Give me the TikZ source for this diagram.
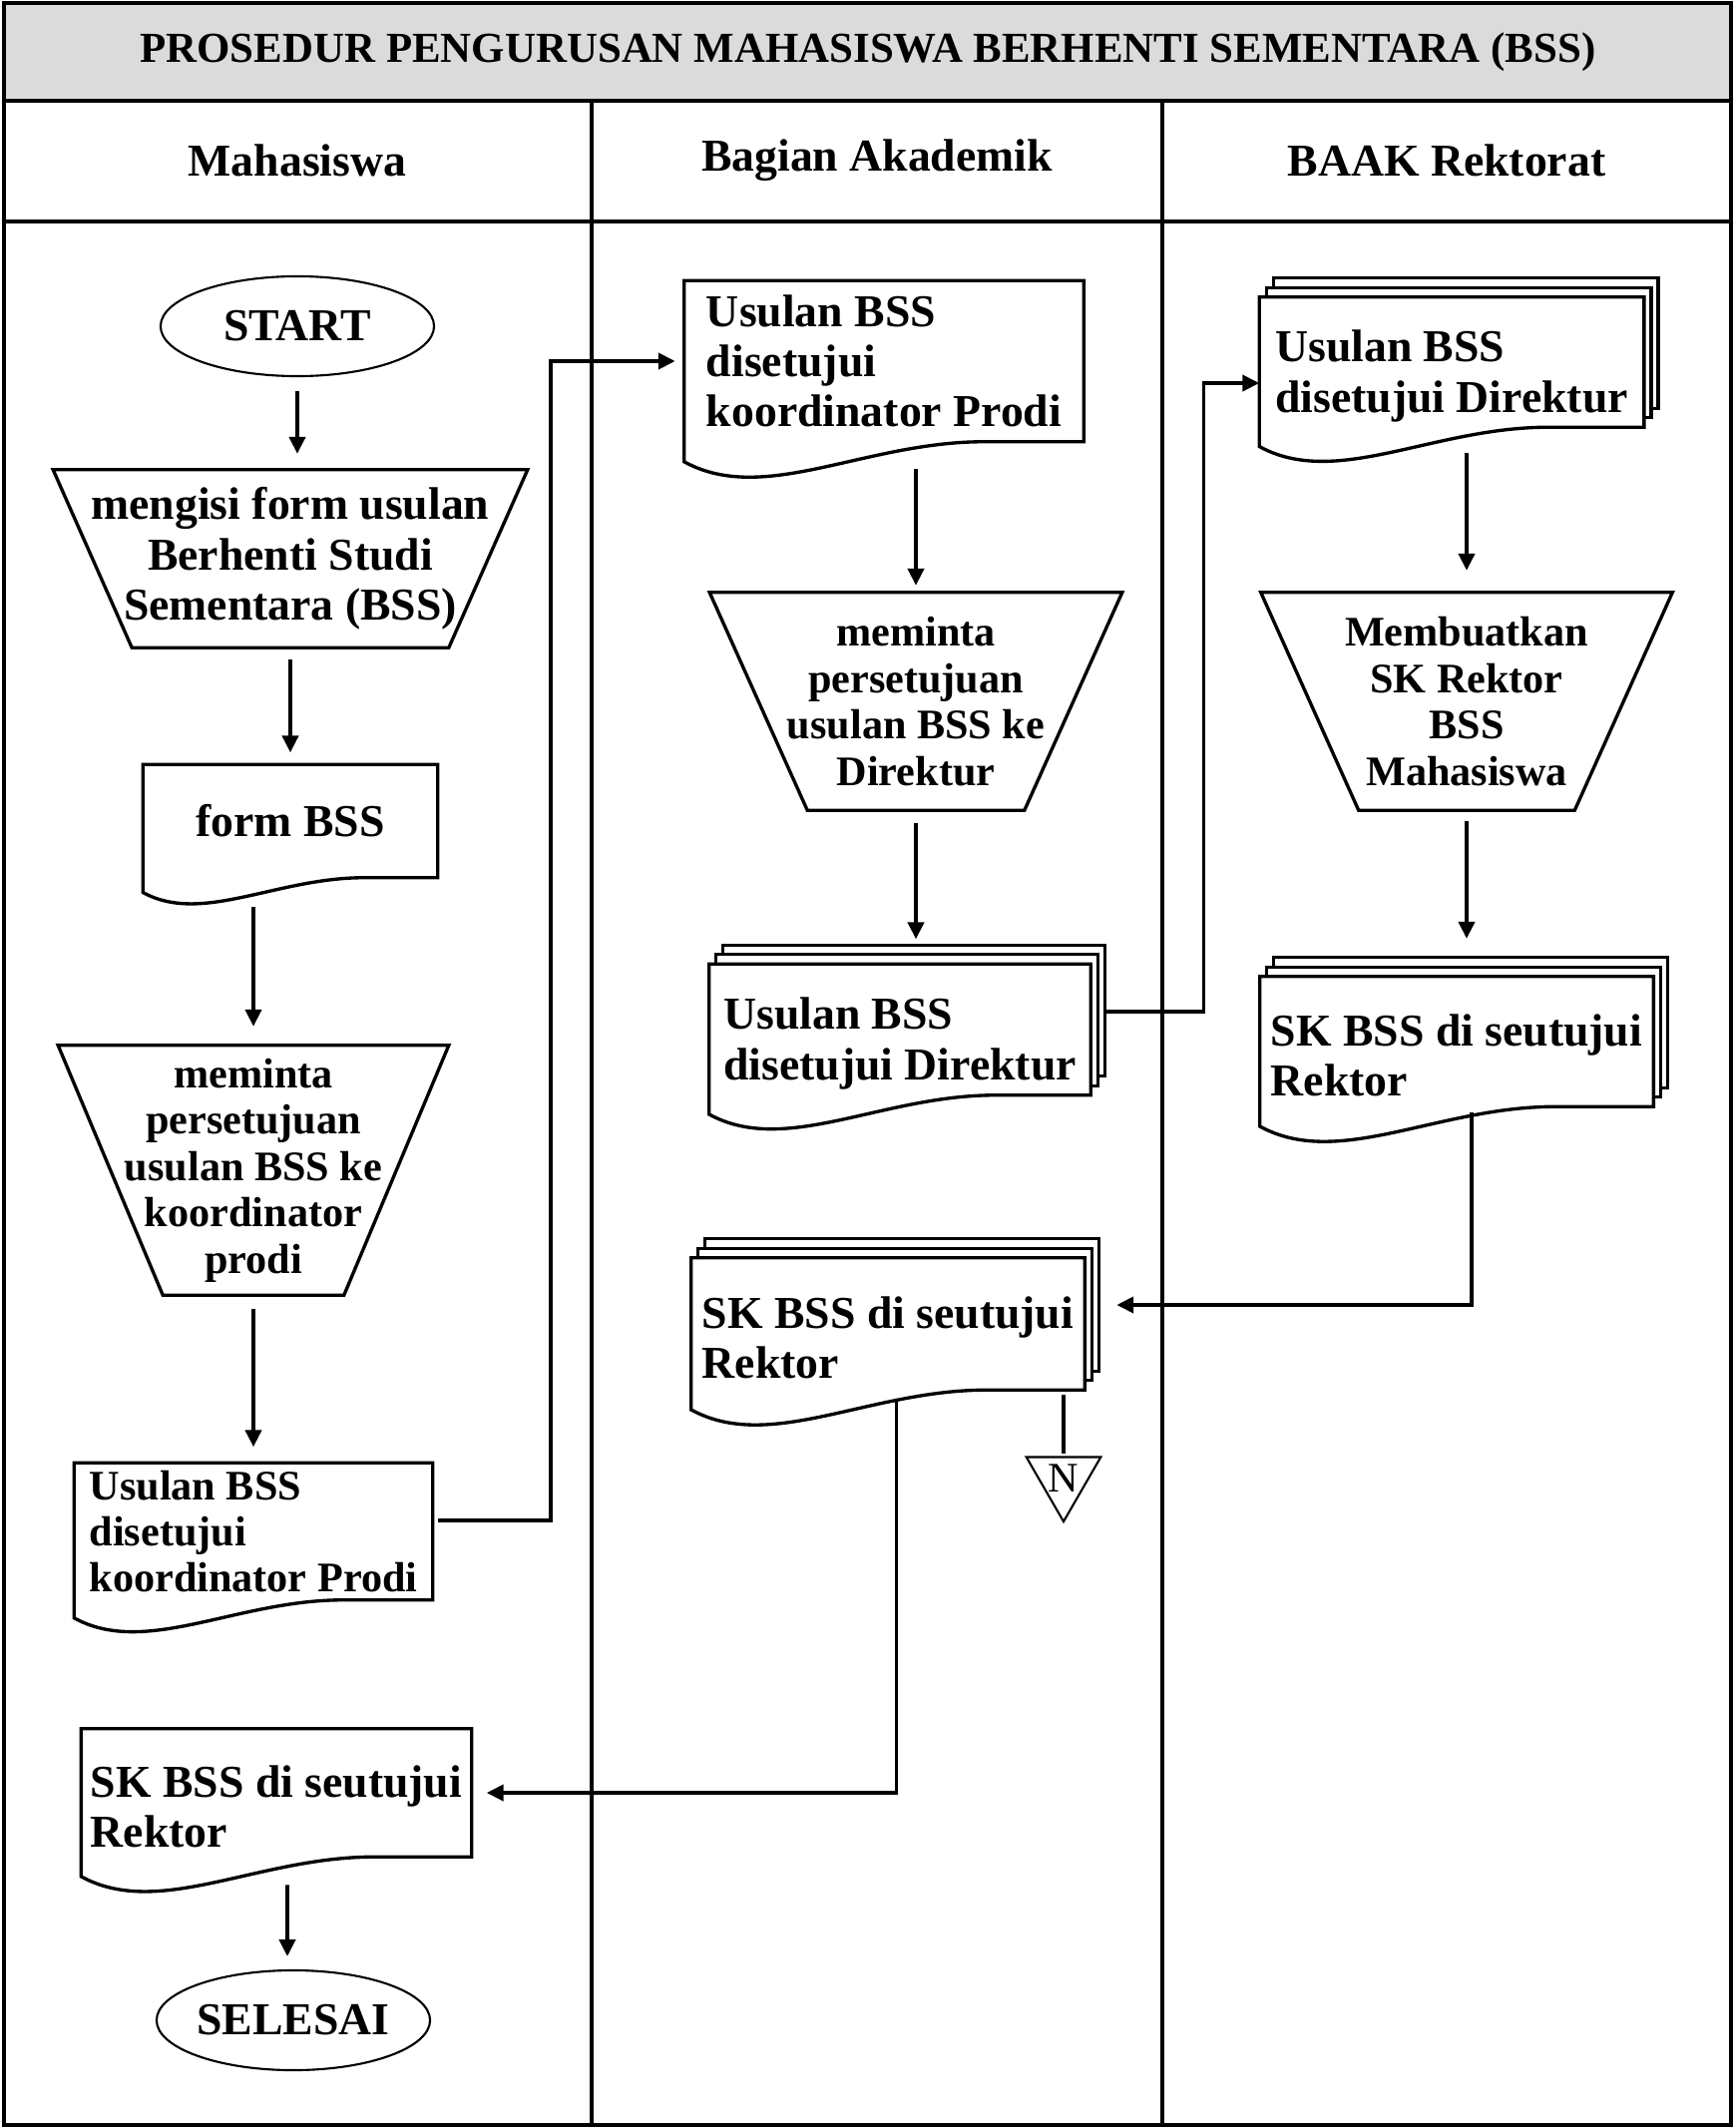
\documentclass[tikz,border=0pt]{standalone}
\usepackage{fontspec}
\setmainfont{Liberation Serif}
\usetikzlibrary{calc}
\usetikzlibrary{arrows.meta}
\usetikzlibrary{shapes.geometric}
\usetikzlibrary{backgrounds}

\newcommand{\doctxt}{\fontsize{13}{14.3}\selectfont\bfseries}
\newcommand{\trptxt}{\fontsize{12}{13.2}\selectfont\bfseries}
\newcommand{\lowstrut}{\rule{0pt}{17pt}}
% document outline: flat top, wavy bottom
\newcommand{\docpath}[1]{%
  \draw[shapeline, fill=white] let \p1=(#1.south west), \p2=(#1.north east), \n1={\x2-\x1} in
    (\x1,\y1-0.05*\n1) -- (#1.north west) -- (#1.north east) -- (#1.south east) -- (\x1+0.75*\n1,\y1)
    .. controls (\x1+0.45*\n1,\y1) and (\x1+0.2*\n1,\y1-0.16*\n1) .. (\x1,\y1-0.05*\n1) -- cycle;}
\newcommand{\docline}[1]{\begin{scope}[on background layer]\docpath{#1}\end{scope}}
\newcommand{\multidoc}[1]{\begin{scope}[on background layer]
  \foreach \k in {2,1} \draw[shapeline, fill=white] ([shift={(\k*0.07cm,\k*0.095cm)}]#1.south west) rectangle ([shift={(\k*0.07cm,\k*0.095cm)}]#1.north east);
  \docpath{#1}\end{scope}}
\newcommand{\trapline}[2]{\draw[shapeline] (#1.north west) -- (#1.north east) -- ([xshift=-#2]#1.south east) -- ([xshift=#2]#1.south west) -- cycle;}

\begin{document}
\begin{tikzpicture}[x=0.01cm, y=-0.01cm, >={Triangle[length=4.8pt,width=4.6pt]},
  shapeline/.style={black, line width=0.95pt},
  flow/.style={black, line width=1pt, ->},
  lane/.style={black, line width=1.3pt},
  term/.style={ellipse, draw, line width=0.6pt, minimum width=2.74cm, minimum height=1cm, inner sep=0pt, font=\doctxt},
  docbox/.style={align=left, inner sep=0pt, font=\doctxt},
  trapbox/.style={align=center, inner sep=0pt, font=\trptxt},
  offpage/.style={regular polygon, regular polygon sides=3, shape border rotate=180, draw, line width=0.6pt, minimum size=0.8cm, inner sep=0pt, font=\fontsize{12}{14}\selectfont}]

\useasboundingbox (0,0) rectangle (1739,2133);
% lanes
\fill[black!14] (4,3) rectangle (1735,101);
\draw[lane] (4,3) rectangle (1735,2130);
\draw[lane] (4,101) -- (1735,101);
\draw[lane] (4,222) -- (1735,222);
\foreach \x in {593,1165} \draw[lane] (\x,101) -- (\x,2130);

\node[font=\fontsize{12.2}{14}\selectfont\bfseries] (title) at (870,52) {PROSEDUR PENGURUSAN MAHASISWA BERHENTI SEMENTARA (BSS)};
\node[font=\doctxt] (laneA) at (298,161) {Mahasiswa};
\node[font=\doctxt] (laneB) at (879,161) {Bagian Akademik};
\node[font=\doctxt] (laneC) at (1450,161) {BAAK Rektorat};

% Mahasiswa
\node[term] (start) at (298,327) {START};
\node[trapbox, font=\doctxt, minimum width=4.74cm, minimum height=1.77cm] (isiA) at (291,560) {mengisi form usulan\\Berhenti Studi\\Sementara (BSS)};
\node[docbox, minimum width=2.94cm, minimum height=1.12cm] (formA) at (291,823) {form BSS};
\node[trapbox, minimum width=3.9cm, minimum height=2.49cm] (mintaA) at (254,1173) {meminta\\persetujuan\\usulan BSS ke\\koordinator\\prodi};
\node[docbox, font=\trptxt, minimum width=3.58cm, minimum height=1.36cm] (usulanA) at (254,1535) {Usulan BSS\\disetujui\\koordinator Prodi};
\node[docbox, minimum width=3.9cm, minimum height=1.27cm] (skA) at (277,1797) {\lowstrut SK BSS di seutujui\\Rektor};
\node[term] (selesai) at (294,2025) {SELESAI};

% Bagian Akademik
\node[docbox, minimum width=3.99cm, minimum height=1.6cm] (usulanB) at (886,362) {Usulan BSS\\disetujui\\koordinator Prodi};
\node[trapbox, minimum width=4.12cm, minimum height=2.17cm] (mintaB) at (918,703) {meminta\\persetujuan\\usulan BSS ke\\Direktur};
\node[docbox, minimum width=3.81cm, minimum height=1.3cm] (direkB) at (902,1032) {\lowstrut Usulan BSS\\disetujui Direktur};
\node[docbox, minimum width=3.93cm, minimum height=1.31cm] (skB) at (890,1327) {\lowstrut SK BSS di seutujui\\Rektor};
\node[offpage] (offN) at (1066,1482) {N};

% BAAK Rektorat
\node[docbox, minimum width=3.84cm, minimum height=1.29cm] (direkC) at (1455,363) {\lowstrut Usulan BSS\\disetujui Direktur};
\node[trapbox, minimum width=4.11cm, minimum height=2.17cm] (buatC) at (1470,703) {Membuatkan\\SK Rektor\\BSS\\Mahasiswa};
\node[docbox, minimum width=3.93cm, minimum height=1.29cm] (skC) at (1460,1044) {\lowstrut SK BSS di seutujui\\Rektor};

\docline{formA} \docline{usulanA} \docline{skA} \docline{usulanB}
\multidoc{direkB} \multidoc{skB} \multidoc{direkC} \multidoc{skC}
\trapline{isiA}{0.79cm} \trapline{mintaA}{1.05cm} \trapline{mintaB}{0.98cm} \trapline{buatC}{0.98cm}

% connectors
\draw[flow, shorten <=0.14cm, shorten >=0.16cm] (start) -- (start |- isiA.north);
\draw[flow, shorten <=0.12cm, shorten >=0.12cm] (isiA) -- (formA);
\draw[flow, shorten >=0.19cm] ($(formA.south -| mintaA.north)+(0,29)$) -- (mintaA.north);
\draw[flow, shorten <=0.14cm, shorten >=0.16cm] (mintaA) -- (usulanA);
\draw[flow, shorten <=0.05cm, shorten >=0.09cm] ([yshift=0.11cm]usulanA.east) -- ++(118,0) |- (usulanB.west);
\draw[flow, shorten >=0.07cm] ($(usulanB.south -| mintaB.north)+(0,27)$) -- (mintaB.north);
\draw[flow, shorten <=0.13cm, shorten >=0.25cm] (mintaB.south) -- (mintaB.south |- direkB.north);
\draw[flow] ([shift={(0.14cm,0.18cm)}]direkB.east) -- ++(99,0) |- ([yshift=-0.21cm]direkC.west);
\draw[flow, shorten >=0.22cm] ($(direkC.south -| buatC.north)+(0,26)$) -- (buatC.north);
\draw[flow, shorten <=0.11cm, shorten >=0.38cm] (buatC.south) -- (buatC.south |- skC.north);
\draw[flow, shorten >=0.32cm] ([shift={(0.15cm,-0.06cm)}]skC.south) |- ([yshift=0.19cm]skB.east);
\draw[flow, shorten >=0.15cm] ([shift={(0.085cm,-0.1cm)}]skB.south) |- (skA.east);
\draw[shapeline] ($(skB.south -| offN)+(0,5)$) -- ([yshift=0.25cm]offN.center);
\draw[flow, shorten >=0.13cm] ($(skA.south -| selesai.north)+(-6,28)$) -- ([xshift=-0.06cm]selesai.north);

\end{tikzpicture}
\end{document}
